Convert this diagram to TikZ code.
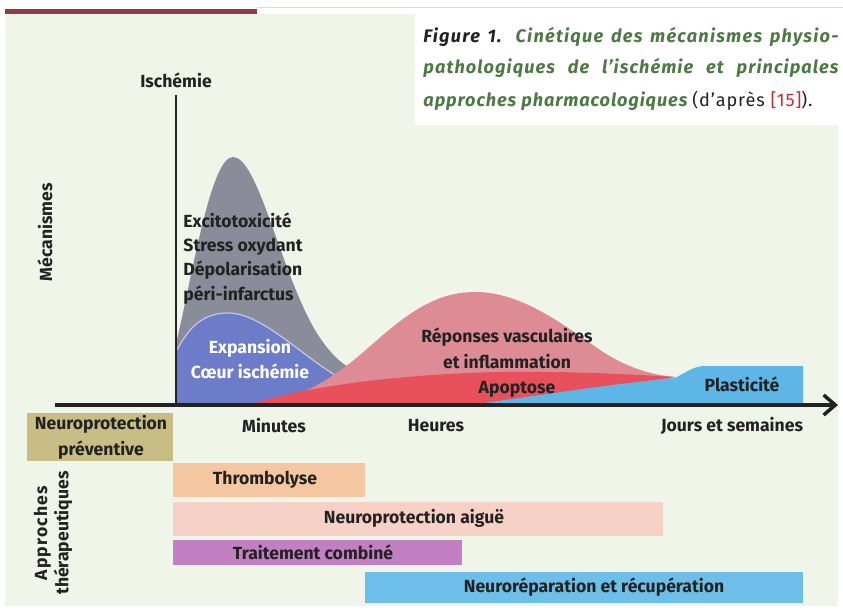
\documentclass[tikz,border=0pt]{standalone}
\usepackage{fontspec}
\setmainfont{Fira Sans}
\usetikzlibrary{arrows.meta, positioning}

\definecolor{fond}{HTML}{EFF5E9}
\definecolor{bordeaux}{HTML}{8E3B47}
\definecolor{legvert}{HTML}{4D7A44}
\definecolor{refrouge}{HTML}{D0282E}
\definecolor{txt}{HTML}{222222}
\definecolor{gris}{HTML}{8A8D99}
\definecolor{bleuexp}{HTML}{6C7CC8}
\definecolor{rosevasc}{HTML}{DD8C96}
\definecolor{rougeapo}{HTML}{E8505C}
\definecolor{bleuplas}{HTML}{5EB6E6}
\definecolor{olive}{HTML}{C9BD86}
\definecolor{orthromb}{HTML}{F4C7A2}
\definecolor{roseaigue}{HTML}{F6D1C6}
\definecolor{violet}{HTML}{C27FC2}
\definecolor{bleurep}{HTML}{6DBFEA}

\begin{document}
\begin{tikzpicture}[x=0.03cm, y=-0.03cm, thick,
    lbl/.style={font=\bfseries\fontsize{15}{20.8}\selectfont, text=txt, inner sep=0pt},
    leg/.style={font=\bfseries\itshape\fontsize{15.5}{18}\selectfont, text=legvert, inner sep=0pt, anchor=west},
    axe/.style={draw=txt, line width=3pt}]
    \useasboundingbox (0,0) rectangle (843,610);

    % Fond et bandeau
    \fill[fond] (5,14) rectangle (838,606);
    \fill[bordeaux] (5,9) rectangle (257,14);
    \draw[black!15, line width=0.6pt] (257,7) -- (843,7);
    \fill[white] (415,14) rectangle (843,125);

    % Legende
    \node[leg] (legA) at (423,37) {\addfontfeature{LetterSpace=7}\makebox[12.45cm][s]{\textcolor{txt}{Figure 1.} Cinétique des mécanismes physio-}};
    \node[leg] (legB) at (423,68) {\addfontfeature{LetterSpace=6}\makebox[12.45cm][s]{pathologiques de l’ischémie et principales}};
    \node[leg] (legC) at (423,101) {\addfontfeature{LetterSpace=5}approches pharmacologiques \textcolor{txt}{\mdseries\upshape(d’après \textcolor{refrouge}{[15]}).}};

    % Mecanismes
    \fill[gris] (177,405) -- (177,340) .. controls (195,260) and (212,157) .. (233,157)
        .. controls (258,157) and (280,270) .. (315,330)
        .. controls (330,355) and (345,368) .. (360,372) -- (360,405) -- cycle;
    \fill[bleuexp] (177,405) -- (177,350) .. controls (190,325) and (205,313) .. (228,313)
        .. controls (262,313) and (300,355) .. (340,378) -- (340,405) -- cycle;
    \draw[white!60!bleuexp, line width=1pt] (177,350) .. controls (190,325) and (205,313) .. (228,313)
        .. controls (262,313) and (300,355) .. (340,378);
    \fill[rosevasc] (260,405) .. controls (300,398) and (330,380) .. (360,355)
        .. controls (400,320) and (430,292) .. (475,292)
        .. controls (520,292) and (560,322) .. (600,350)
        .. controls (630,370) and (655,375) .. (675,377) -- (600,405) -- cycle;
    \fill[rougeapo] (250,405) .. controls (300,387) and (400,374) .. (500,372)
        .. controls (580,371) and (640,375) .. (675,377)
        .. controls (620,385) and (540,395) .. (480,405) -- cycle;
    \fill[bleuplas] (470,405) .. controls (540,395) and (620,383) .. (675,378)
        .. controls (690,370) and (695,366) .. (705,366) -- (803,366) -- (803,405) -- cycle;

    % Axes
    \node[lbl] (ischemie) at (176,80) {Ischémie};
    \coordinate (o) at (176,405);
    \coordinate (ytop) at (176,95);
    \coordinate (xstart) at (55,405);
    \coordinate (xend) at (838,405);
    \draw[axe, line width=2.4pt] (o) -- (ytop);
    \draw[axe, -{Straight Barb[length=3.5mm, width=6mm]}] (xstart) -- (xend);

    % Textes
    \node[lbl, rotate=90] (meca) at (45,232) {Mécanismes};
    \node[lbl, align=left, anchor=north west] (excito) at (183,212) {Excitotoxicité\\Stress oxydant\\Dépolarisation\\péri-infarctus};
    \node[lbl, text=white, align=center, font=\bfseries\fontsize{15}{22}\selectfont] (expansion) at (250,359) {Expansion\\Cœur ischémie};
    \node[lbl, align=center, font=\bfseries\fontsize{15}{22}\selectfont] (vasc) at (507,348) {Réponses vasculaires\\et inflammation};
    \node[lbl] (apoptose) at (517,389) {Apoptose};
    \node[lbl] (plasticite) at (742,384) {Plasticité};
    \node[lbl] (minutes) at (274,426) {Minutes};
    \node[lbl] (heures) at (436,426) {Heures};
    \node[lbl] (jours) at (732,426) {Jours et semaines};

    % Approches
    \fill[olive] (27,413) rectangle (173,461);
    \node[lbl, align=center, font=\bfseries\fontsize{15}{22}\selectfont] (prevent) at (101,437) {Neuroprotection\\préventive};
    \node[lbl, rotate=90, align=center, font=\bfseries\fontsize{15}{18}\selectfont] (approches) at (53,533)
        {{\addfontfeature{LetterSpace=7}Approches}\\thérapeutiques};
    \fill[orthromb] (173,463) rectangle (365,497);
    \node[lbl] (thromb) at (265,480) {Thrombolyse};
    \fill[roseaigue] (173,502) rectangle (663,536);
    \node[lbl] (aigue) at (414,518) {Neuroprotection aiguë};
    \fill[violet] (173,540) rectangle (462,565);
    \node[lbl] (combine) at (313,552) {Traitement combiné};
    \fill[bleurep] (365,572) rectangle (803,603);
    \node[lbl] (repar) at (594,587) {Neuroréparation et récupération};
\end{tikzpicture}
\end{document}
